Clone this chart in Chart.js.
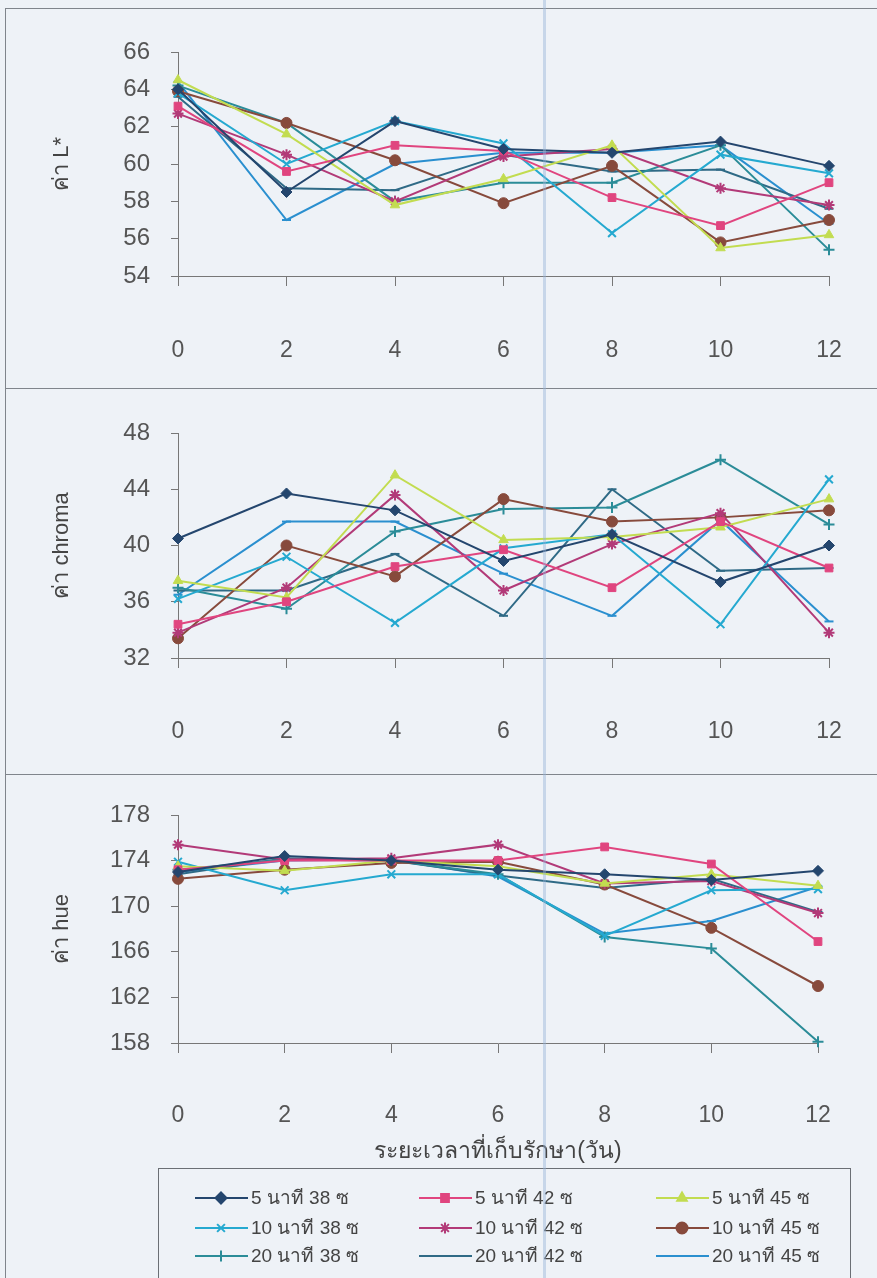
<!DOCTYPE html>
<html>
<head>
<meta charset="utf-8">
<script src="https://cdn.jsdelivr.net/npm/chart.js@4.4.0/dist/chart.umd.min.js"></script>
<style>
  body { margin: 0; background: #eef2f7; width: 877px; height: 1278px; position: relative; overflow: hidden;
         font-family: "Liberation Sans", Arial, "Noto Sans", sans-serif; }
  canvas { position: absolute; left: 0; }
  .hline { position: absolute; left: 5px; width: 872px; border-top: 1.5px solid #80858c; }
  .vline { position: absolute; top: 8px; left: 5px; height: 1270px; border-left: 1.5px solid #80858c; }
  .scan { position: absolute; top: 0; left: 543px; width: 3px; height: 1278px; background: rgba(150, 180, 215, 0.45); }
  #legend { position: absolute; left: 158px; top: 1168px; width: 691px; height: 130px; border: 1.5px solid #6b6f75; }
  #legend canvas { position: absolute; }
  #legend span { position: absolute; font-size: 19px; color: #444; line-height: 20px; white-space: nowrap; }
</style>
</head>
<body>
<div class="hline" style="top:8px"></div>
<div class="hline" style="top:388px"></div>
<div class="hline" style="top:774px"></div>
<div class="vline"></div>
<canvas id="chartL" width="877" height="388" style="top:0px"></canvas>
<canvas id="chartC" width="877" height="386" style="top:388px"></canvas>
<canvas id="chartH" width="877" height="400" style="top:774px"></canvas>
<div id="legend"></div>
<div class="scan"></div>
<script>
var days = ['0', '2', '4', '6', '8', '10', '12'];
var names = ['5 นาที 38 ซ', '5 นาที 42 ซ', '5 นาที 45 ซ',
             '10 นาที 38 ซ', '10 นาที 42 ซ', '10 นาที 45 ซ',
             '20 นาที 38 ซ', '20 นาที 42 ซ', '20 นาที 45 ซ'];
var colors = ['#24466e', '#e0457f', '#c2dc50', '#25a9d0', '#b23a78', '#874a3c', '#2b8c98', '#2f6a86', '#2a8fcf'];
var markers = ['rectRot', 'rect', 'triangle', 'crossRot', 'star', 'circle', 'cross', 'line', 'line'];

// ค่า L*
var lValues = [
  [64.0, 58.5, 62.3, 60.8, 60.6, 61.2, 59.9],
  [63.1, 59.6, 61.0, 60.7, 58.2, 56.7, 59.0],
  [64.5, 61.6, 57.8, 59.2, 61.0, 55.5, 56.2],
  [63.8, 60.0, 62.3, 61.1, 56.3, 60.5, 59.5],
  [62.7, 60.5, 58.0, 60.4, 60.8, 58.7, 57.8],
  [63.9, 62.2, 60.2, 57.9, 59.9, 55.8, 57.0],
  [64.2, 62.2, 58.0, 59.0, 59.0, 61.0, 55.4],
  [63.6, 58.7, 58.6, 60.5, 59.6, 59.7, 57.6],
  [64.4, 57.0, 60.0, 60.6, 60.6, 61.0, 56.8]
];
// ค่า chroma
var chromaValues = [
  [40.5, 43.7, 42.5, 38.9, 40.8, 37.4, 40.0],
  [34.4, 36.0, 38.5, 39.7, 37.0, 41.7, 38.4],
  [37.5, 36.3, 45.0, 40.4, 40.6, 41.3, 43.3],
  [36.2, 39.2, 34.5, 39.8, 40.8, 34.4, 44.7],
  [33.8, 37.0, 43.6, 36.8, 40.1, 42.3, 33.8],
  [33.4, 40.0, 37.8, 43.3, 41.7, 42.0, 42.5],
  [37.0, 35.5, 41.0, 42.6, 42.7, 46.1, 41.5],
  [36.8, 36.8, 39.4, 35.0, 44.0, 38.2, 38.4],
  [36.5, 41.7, 41.7, 38.0, 35.0, 41.8, 34.6]
];
// ค่า hue
var hueValues = [
  [173.0, 174.4, 174.0, 173.2, 172.8, 172.3, 173.1],
  [173.2, 174.0, 174.0, 174.0, 175.2, 173.7, 166.9],
  [173.5, 173.1, 174.0, 173.5, 172.0, 172.8, 171.8],
  [173.9, 171.4, 172.8, 172.8, 167.4, 171.4, 171.5],
  [175.4, 174.1, 174.2, 175.4, 172.0, 172.2, 169.4],
  [172.4, 173.2, 173.8, 173.9, 171.9, 168.1, 163.0],
  [173.2, 174.1, 174.0, 172.8, 167.3, 166.3, 158.1],
  [172.8, 174.2, 174.0, 172.7, 171.6, 172.4, 169.5],
  [173.0, 174.0, 174.1, 172.6, 167.6, 168.7, 171.7]
];

var fontFamily = '"Liberation Sans", Arial, "Noto Sans", sans-serif';

function makeChart(id, values, yMin, yMax, yStep, yTitle, p) {
  var datasets = [];
  for (var i = 0; i < values.length; i++) {
    datasets.push({
      label: names[i],
      data: values[i],
      borderColor: colors[i],
      backgroundColor: colors[i],
      borderWidth: 2,
      pointStyle: markers[i],
      pointRadius: markers[i] == 'line' ? 4.5 : 5.5,
      pointBorderWidth: (markers[i] == 'crossRot' || markers[i] == 'cross' || markers[i] == 'star' || markers[i] == 'line') ? 2 : 1,
      tension: 0,
      clip: false
    });
  }
  var xScale = {
    grid: { drawOnChartArea: false, drawTicks: true, tickLength: 10, color: '#777' },
    border: { color: '#777', width: 1 },
    ticks: {
      color: '#555', padding: p.labelPad, font: { family: fontFamily, size: 23 },
      // empty first line pushes the labels far below the axis, like the original
      callback: function(v, i) { return ['', days[i]]; }
    },
    afterFit: function(scale) { scale.height = p.canvasH - p.bottom; }
  };
  if (p.xTitle) {
    xScale.title = { display: true, text: p.xTitle, color: '#444', padding: { top: 0, bottom: 9 },
                     font: { family: fontFamily, size: 23 } };
  }
  return new Chart(document.getElementById(id), {
    type: 'line',
    data: { labels: days, datasets: datasets },
    options: {
      responsive: false,
      animation: false,
      devicePixelRatio: 1,
      layout: { padding: { left: 0, top: p.top, right: p.right, bottom: 0 } },
      plugins: { legend: { display: false }, tooltip: { enabled: false } },
      scales: {
        x: xScale,
        y: {
          min: yMin, max: yMax,
          grid: { drawOnChartArea: false, drawTicks: true, tickLength: 7, color: '#777' },
          border: { color: '#777', width: 1 },
          ticks: { stepSize: yStep, color: '#555', padding: 21, font: { family: fontFamily, size: 24 } },
          title: { display: true, text: yTitle, color: '#444', padding: { top: 49, bottom: 0 },
                   font: { family: fontFamily, size: 22 } },
          afterFit: function(scale) { scale.width = 178; }
        }
      }
    }
  });
}

makeChart('chartL', lValues, 54, 66, 2, 'ค่า L*',
  { top: 52, bottom: 276, canvasH: 388, right: 48, labelPad: 23 });
makeChart('chartC', chromaValues, 32, 48, 4, 'ค่า chroma',
  { top: 45, bottom: 270, canvasH: 386, right: 48, labelPad: 22 });
makeChart('chartH', hueValues, 158, 178, 4, 'ค่า hue',
  { top: 41, bottom: 269, canvasH: 400, right: 59, labelPad: 21, xTitle: 'ระยะเวลาที่เก็บรักษา(วัน)' });

// legend: 3 columns x 3 rows, line + marker like the original
var legend = document.getElementById('legend');
var colX = [35, 259, 496];
var rowY = [29, 59, 87];
for (var i = 0; i < names.length; i++) {
  var cx = colX[i % 3], cy = rowY[Math.floor(i / 3)];
  var c = document.createElement('canvas');
  c.width = 56; c.height = 20;
  c.style.left = cx + 'px';
  c.style.top = (cy - 10) + 'px';
  legend.appendChild(c);
  var ctx = c.getContext('2d');
  ctx.strokeStyle = colors[i];
  ctx.fillStyle = colors[i];
  ctx.lineWidth = 2;
  ctx.beginPath();
  ctx.moveTo(1, 10);
  ctx.lineTo(54, 10);
  ctx.stroke();
  Chart.helpers.drawPoint(ctx, {
    pointStyle: markers[i],
    radius: markers[i] == 'line' ? 4.5 : 5.5,
    rotation: 0,
    borderWidth: 2
  }, 27, 10);
  var s = document.createElement('span');
  s.textContent = names[i];
  s.style.left = (cx + 57) + 'px';
  s.style.top = (cy - 10) + 'px';
  legend.appendChild(s);
}
</script>
</body>
</html>
